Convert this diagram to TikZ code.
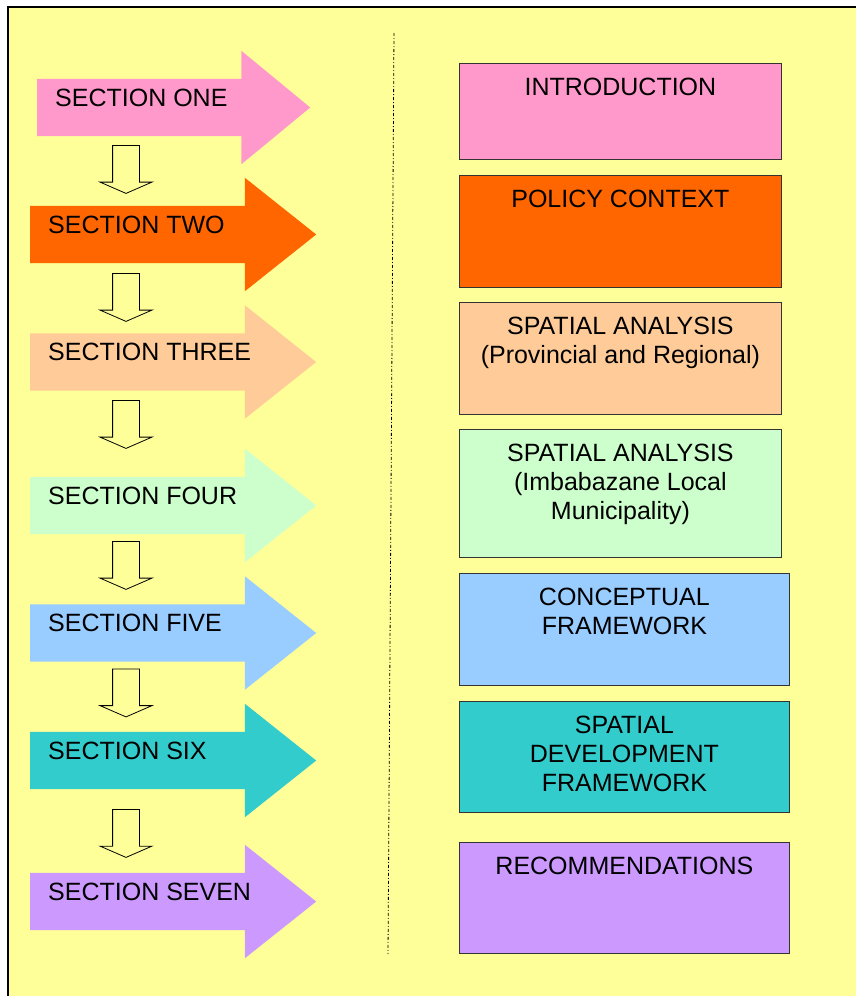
\documentclass[tikz,border=0pt]{standalone}
\usepackage{fontspec}
\setmainfont{Liberation Sans}
\usetikzlibrary{shapes.arrows,positioning}
\definecolor{pagebg}{HTML}{FFFF99}
\definecolor{secpink}{HTML}{FF99CC}
\definecolor{secorange}{HTML}{FF6600}
\definecolor{secpeach}{HTML}{FFCC99}
\definecolor{secgreen}{HTML}{CCFFCC}
\definecolor{secblue}{HTML}{99CCFF}
\definecolor{secteal}{HTML}{33CCCC}
\definecolor{seclilac}{HTML}{CC99FF}

\begin{document}
\begin{tikzpicture}[x=1pt,y=-1pt]
\tikzstyle{secarrow} = [single arrow, draw=none, inner xsep=0pt, inner ysep=28.5pt,
anchor=tail, minimum height=286pt, minimum width=113pt, single arrow head extend=28pt,
single arrow tip angle=77]
\tikzstyle{downarrow} = [single arrow, draw=black, fill=pagebg, line width=0.8pt,
inner xsep=0pt, inner ysep=13pt, anchor=tail, rotate=-90, minimum height=48pt,
minimum width=51pt, single arrow head extend=12.5pt, single arrow tip angle=133]
\tikzstyle{seclabel} = [anchor=base west, inner sep=0pt, font=\fontsize{25}{29}\selectfont]
\tikzstyle{block} = [rectangle, draw=black!80, line width=0.8pt, anchor=north west,
inner sep=0pt, minimum width=322pt]
\tikzstyle{block_wide} = [block, minimum width=330pt]
\tikzstyle{blocktext} = [anchor=north, inner sep=0pt, align=center,
font=\fontsize{25}{29}\selectfont]
\useasboundingbox (0,0) rectangle (856,996);
\clip (0,0) rectangle (856,996);
% page frame
\draw[line width=2pt, fill=pagebg] (8,7) rectangle (880,1020);
\coordinate (divtop) at (394,33);
\coordinate (divbot) at (388,954);
\draw[line width=0.8pt, dash pattern=on 3pt off 2pt on 1pt off 2pt] (divtop) -- (divbot);

% left column: sections
\node [secarrow, fill=secpink, minimum height=273pt, single arrow tip angle=79] (sec1) at (37,107.5) {};
\node [secarrow, fill=secorange] (sec2) at (30,234.5) {};
\node [secarrow, fill=secpeach] (sec3) at (30,362) {};
\node [secarrow, fill=secgreen] (sec4) at (30,505.5) {};
\node [secarrow, fill=secblue] (sec5) at (30,633) {};
\node [secarrow, fill=secteal] (sec6) at (30,760.5) {};
\node [secarrow, fill=seclilac] (sec7) at (30,901.5) {};

\node [seclabel] (sec1txt) at ([xshift=18pt,yshift=1.5pt]sec1.tail) {SECTION ONE};
\node [seclabel] (sec2txt) at ([xshift=18pt,yshift=1.5pt]sec2.tail) {SECTION TWO};
\node [seclabel] (sec3txt) at ([xshift=18pt,yshift=1.5pt]sec3.tail) {SECTION THREE};
\node [seclabel] (sec4txt) at ([xshift=18pt,yshift=1.5pt]sec4.tail) {SECTION FOUR};
\node [seclabel] (sec5txt) at ([xshift=18pt,yshift=1.5pt]sec5.tail) {SECTION FIVE};
\node [seclabel] (sec6txt) at ([xshift=18pt,yshift=1.5pt]sec6.tail) {SECTION SIX};
\node [seclabel] (sec7txt) at ([xshift=18pt,yshift=1.5pt]sec7.tail) {SECTION SEVEN};

% hollow arrows between sections
\node [downarrow] (down1) at (126,145) {};
\node [downarrow] (down2) at (126,273) {};
\node [downarrow] (down3) at (126,400) {};
\node [downarrow] (down4) at (126,541) {};
\node [downarrow] (down5) at (126,668.5) {};
\node [downarrow] (down6) at (126,809) {};

% right column: contents
\node [block, fill=secpink, minimum height=96pt] (intro) at (459,63) {};
\node [block, fill=secorange, minimum height=112pt] (policy) at (459,175) {};
\node [block, fill=secpeach, minimum height=112pt] (spatial_prov) at (459,302) {};
\node [block, fill=secgreen, minimum height=128pt] (spatial_local) at (459,429) {};
\node [block_wide, fill=secblue, minimum height=112pt] (concept) at (459,573) {};
\node [block_wide, fill=secteal, minimum height=111pt] (sdf) at (459,701) {};
\node [block_wide, fill=seclilac, minimum height=111pt] (recommend) at (459,842) {};

\node [blocktext] (introtxt) at ([yshift=-15pt]intro.north) {INTRODUCTION};
\node [blocktext] (policytxt) at ([yshift=-15pt]policy.north) {POLICY CONTEXT};
\node [blocktext] (spatial_provtxt) at ([yshift=-15pt]spatial_prov.north) {SPATIAL ANALYSIS\\(Provincial and Regional)};
\node [blocktext] (spatial_localtxt) at ([yshift=-15pt]spatial_local.north) {SPATIAL ANALYSIS\\(Imbabazane Local\\Municipality)};
\node [blocktext] (concepttxt) at ([yshift=-15pt]concept.north) {CONCEPTUAL\\FRAMEWORK};
\node [blocktext] (sdftxt) at ([yshift=-15pt]sdf.north) {SPATIAL\\DEVELOPMENT\\FRAMEWORK};
\node [blocktext] (recommendtxt) at ([yshift=-15pt]recommend.north) {RECOMMENDATIONS};

\end{tikzpicture}
\end{document}
